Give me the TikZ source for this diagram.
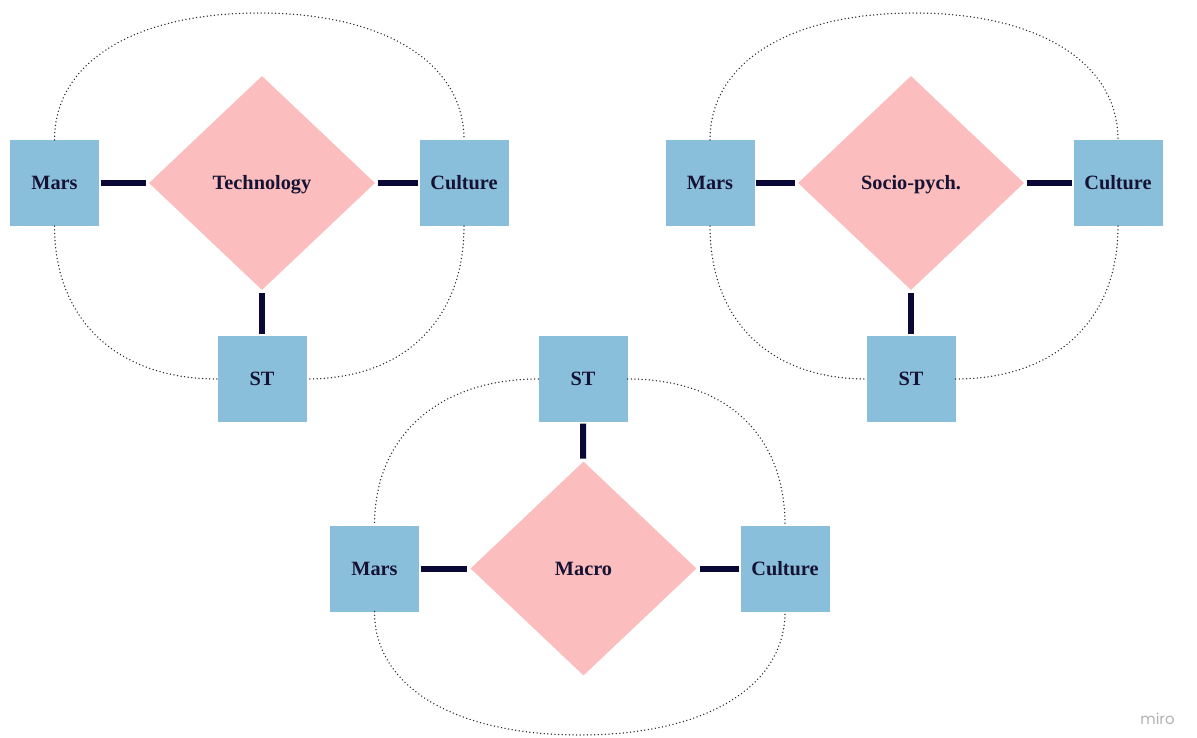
\documentclass[tikz,border=0pt]{standalone}
\usepackage{fontspec}
\setmainfont{Liberation Serif}
\newfontfamily\logofont{Poppins}
\usetikzlibrary{shapes.geometric}
\definecolor{boxblue}{RGB}{138,191,220}
\definecolor{diapink}{RGB}{251,189,189}
\definecolor{labelnavy}{RGB}{22,18,52}
\definecolor{linknavy}{RGB}{10,8,55}
\begin{document}
\begin{tikzpicture}[x=1pt,y=-1pt,
  label font/.style={text=labelnavy, text height=13.4pt, text depth=0pt,
    font=\bfseries\fontsize{20.3}{24}\selectfont},
  entity/.style={rectangle, fill=boxblue, minimum width=89pt, minimum height=86pt,
    inner sep=0pt, label font},
  relation/.style={diamond, fill=diapink, minimum width=226pt, minimum height=214pt,
    inner sep=0pt, label font},
  link/.style={draw=linknavy, line width=6pt, shorten <=1.5pt, shorten >=3pt},
  loop/.style={draw=black!85, line width=1.5pt, line cap=round, dash pattern=on 0pt off 3.6pt}]
\useasboundingbox (0,0) rectangle (1197,738);

% ---- Technology cluster ----
\node[entity] (m1) at (54.5,183) {Mars};
\node[entity] (c1) at (464,183) {Culture};
\node[relation] (d1) at (262,183) {Technology};
\node[entity] (s1) at (262,379) {ST};
\coordinate (t1) at (259,13);
\draw[link] (m1) -- (d1);
\draw[link] (c1) -- (d1);
\draw[link] (s1) -- (d1);
\draw[loop] (m1.north) .. controls +(0,-78) and +(-124,0) .. (t1)
  .. controls +(124,0) and +(0,-78) .. (c1.north);
\draw[loop] (m1.south) .. controls +(0,94) and +(-100,0) .. (s1.west);
\draw[loop] (c1.south) .. controls +(0,94) and +(97,0) .. (s1.east);

% ---- Socio-psychological cluster ----
\node[entity] (m2) at (710,183) {Mars};
\node[entity] (c2) at (1118,183) {Culture};
\node[relation] (d2) at (911,183) {Socio-pych.};
\node[entity] (s2) at (911,379) {ST};
\coordinate (t2) at (914,13);
\draw[link] (m2) -- (d2);
\draw[link] (c2) -- (d2);
\draw[link] (s2) -- (d2);
\draw[loop] (m2.north) .. controls +(0,-78) and +(-123,0) .. (t2)
  .. controls +(123,0) and +(0,-78) .. (c2.north);
\draw[loop] (m2.south) .. controls +(0,94) and +(-97,0) .. (s2.west);
\draw[loop] (c2.south) .. controls +(0,94) and +(100,0) .. (s2.east);

% ---- Macro cluster ----
\node[entity] (s3) at (583,379) {ST};
\node[entity] (m3) at (374.5,568.5) {Mars};
\node[entity] (c3) at (785,568.5) {Culture};
\node[relation] (d3) at (583.5,568.5) {Macro};
\coordinate (b3) at (580,735);
\draw[link] (s3) -- (d3);
\draw[link] (m3) -- (d3);
\draw[link] (c3) -- (d3);
\draw[loop] (s3.west) .. controls +(-99,0) and +(0,-90) .. (m3.north);
\draw[loop] (s3.east) .. controls +(99,0) and +(0,-90) .. (c3.north);
\draw[loop] (m3.south) .. controls +(0,76) and +(-124,0) .. (b3)
  .. controls +(124,0) and +(0,76) .. (c3.south);

% ---- board watermark ----
\node[text=black!30, font=\logofont\fontsize{15}{18}\selectfont, inner sep=0pt]
  (logo) at (1157.5,719) {miro};
\end{tikzpicture}
\end{document}
